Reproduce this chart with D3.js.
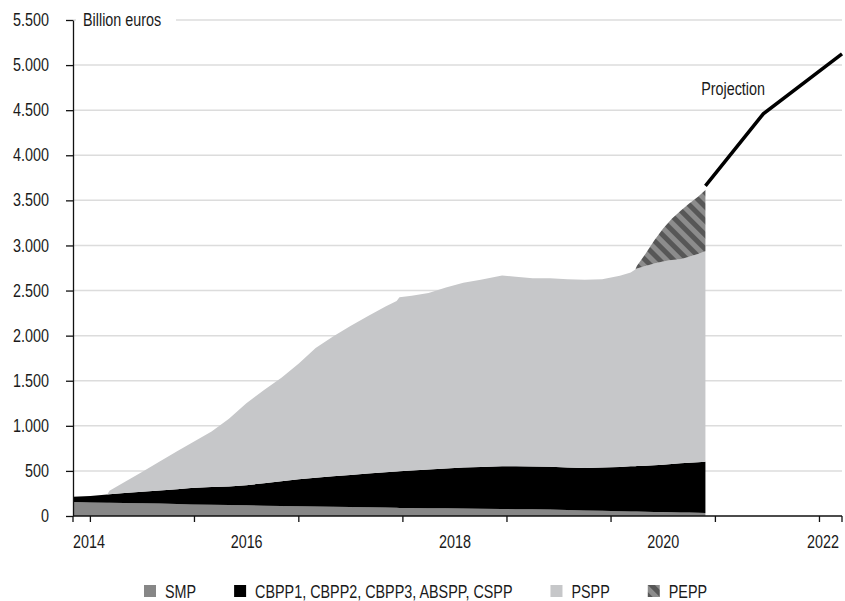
<!DOCTYPE html>
<html>
<head>
<meta charset="utf-8">
<script src="https://cdn.jsdelivr.net/npm/d3@7"></script>
<style>
  body { margin: 0; background: #fff; }
  text { font-family: "Liberation Sans", Arial, sans-serif; font-size: 17.5px; fill: #1a1a1a; }
</style>
</head>
<body>
<div id="chart"></div>
<script>
// Eurosystem holdings, billion euros
const dates = [
  "2014-11-01", "2015-01-01", "2015-03-01", "2015-03-09", "2015-05-01", "2015-07-01", "2015-09-01", "2015-11-01",
  "2015-12-20", "2016-03-01", "2016-05-01", "2016-07-01", "2016-09-01", "2016-11-01", "2017-01-01", "2017-03-01",
  "2017-05-01", "2017-07-01", "2017-09-01", "2017-11-01", "2017-12-10", "2017-12-20", "2018-02-01", "2018-04-01",
  "2018-06-01", "2018-08-01", "2018-10-01", "2018-12-15", "2019-02-01", "2019-04-01", "2019-06-01", "2019-08-01",
  "2019-10-01", "2019-12-01", "2020-02-01", "2020-03-10", "2020-03-26", "2020-04-01", "2020-05-01", "2020-06-01",
  "2020-07-01", "2020-08-01", "2020-09-01", "2020-10-01", "2020-11-01", "2020-11-27"
];
const smp = [
  155, 150, 147, 147, 144, 141, 138, 133,
  128, 125, 122, 119, 115, 112, 108, 105,
  102, 99, 96, 93, 91, 90, 89, 87,
  85, 82, 80, 78, 76, 74, 72, 67,
  62, 57, 53, 50, 49, 49, 47, 45,
  43, 41, 40, 38, 36, 34
];
const cbpp = [
  59, 72, 92, 94, 110, 127, 145, 165,
  182, 197, 206, 223, 248, 274, 300, 319,
  338, 356, 374, 391, 402, 405, 415, 429,
  442, 455, 464, 473, 475, 475, 475, 472,
  470, 480, 491, 501, 504, 505, 511, 518,
  526, 535, 545, 552, 560, 567
];
const pspp = [
  0, 0, 0, 40, 122, 221, 321, 419,
  498, 615, 751, 908, 1033, 1146, 1284, 1439,
  1551, 1653, 1747, 1838, 1892, 1930, 1939, 1958,
  2006, 2049, 2076, 2115, 2103, 2086, 2088, 2086,
  2088, 2088, 2121, 2149, 2180, 2191, 2214, 2237,
  2254, 2262, 2263, 2286, 2309, 2334
];
const pepp = [
  0, 0, 0, 0, 0, 0, 0, 0,
  0, 0, 0, 0, 0, 0, 0, 0,
  0, 0, 0, 0, 0, 0, 0, 0,
  0, 0, 0, 0, 0, 0, 0, 0,
  0, 0, 0, 0, 0, 30, 136, 259,
  363, 459, 536, 590, 636, 680
];
const projDates = ["2020-11-27", "2021-06-18", "2022-03-21"];
const projValues = [3660, 4460, 5125];

const keys = ["smp", "cbpp", "pspp", "pepp"];
const legendLabels = ["SMP", "CBPP1, CBPP2, CBPP3, ABSPP, CSPP", "PSPP", "PEPP"];
const yTicks = [0, 500, 1000, 1500, 2000, 2500, 3000, 3500, 4000, 4500, 5000, 5500];
const labelYears = [2014, 2016, 2018, 2020, 2022];

const width = 845, height = 601;
const margin = { left: 73, right: 3, top: 20, bottom: 85 };
const fills = { smp: "#878787", cbpp: "#000000", pspp: "#c6c7c9", pepp: "url(#hatch)" };

const parse = d3.timeParse("%Y-%m-%d");
const xStart = parse("2014-11-01"), xEnd = parse("2022-03-21");

const x = d3.scaleTime().domain([xStart, xEnd]).range([margin.left, width - margin.right]);
const y = d3.scaleLinear().domain([0, 5500]).range([height - margin.bottom, margin.top]);

const euro = d3.formatLocale({ decimal: ",", thousands: ".", grouping: [3], currency: ["", " €"] });

// no narrow font installed: squeeze the regular one to narrow proportions
const narrow = sel => sel.each(function () {
  const w = this.getComputedTextLength();
  d3.select(this).attr("textLength", w * 0.82).attr("lengthAdjust", "spacingAndGlyphs");
});

const rows = dates.map((d, i) => ({ date: parse(d), smp: smp[i], cbpp: cbpp[i], pspp: pspp[i], pepp: pepp[i] }));
const series = d3.stack().keys(keys)(rows);

const svg = d3.select("#chart").append("svg")
  .attr("width", width)
  .attr("height", height);

const defs = svg.append("defs");
const hatch = defs.append("pattern")
  .attr("id", "hatch")
  .attr("patternUnits", "userSpaceOnUse")
  .attr("width", 10).attr("height", 10)
  .attr("patternTransform", "rotate(-45)");
hatch.append("rect").attr("width", 10).attr("height", 10).attr("fill", "#8c8c8c");
hatch.append("rect").attr("width", 5).attr("height", 10).attr("fill", "#575757");

// gridlines
svg.append("g")
  .selectAll("line")
  .data(yTicks.filter(v => v > 0))
  .join("line")
  .attr("x1", margin.left).attr("x2", width - margin.right)
  .attr("y1", d => y(d)).attr("y2", d => y(d))
  .attr("stroke", "#dcdcdc")
  .attr("stroke-width", 1.5);

// stacked areas
const area = d3.area()
  .x(d => x(d.data.date))
  .y0(d => y(d[0]))
  .y1(d => y(d[1]));

svg.append("g")
  .selectAll("path")
  .data(series)
  .join("path")
  .attr("fill", d => fills[d.key])
  .attr("d", area);

// projection line
const projLine = d3.line()
  .x((d, i) => x(parse(projDates[i])))
  .y(d => y(d));

svg.append("path")
  .attr("d", projLine(projValues))
  .attr("fill", "none")
  .attr("stroke", "#000")
  .attr("stroke-width", 3.5);

svg.append("text")
  .attr("x", x(parse("2021-03-04")))
  .attr("y", 95)
  .attr("text-anchor", "middle")
  .text("Projection")
  .call(narrow);

// y axis
const yAxis = svg.append("g")
  .attr("transform", `translate(${margin.left},0)`)
  .call(d3.axisLeft(y)
    .tickValues(yTicks)
    .tickSize(7)
    .tickSizeOuter(0)
    .tickPadding(17)
    .tickFormat(euro.format(",")));
yAxis.selectAll("text").attr("font-size", null).attr("font-family", null).attr("fill", "#1a1a1a").call(narrow);
yAxis.selectAll("line, path").attr("stroke", "#111").attr("stroke-width", 1.3);

// unit label with white background over the top gridline
const unit = svg.append("g");
unit.append("rect")
  .attr("x", margin.left + 3).attr("y", 8)
  .attr("width", 100).attr("height", 22)
  .attr("fill", "#fff");
unit.append("text")
  .attr("x", margin.left + 10)
  .attr("y", y(5500) + 6)
  .text("Billion euros")
  .call(narrow);

// x axis: ticks at year boundaries, labels centred in every other year
const x0 = height - margin.bottom;
const tickDates = [xStart].concat(d3.timeYear.range(d3.timeYear.ceil(xStart), xEnd), [xEnd]);
const xAxis = svg.append("g");
xAxis.append("line")
  .attr("x1", margin.left).attr("x2", width - margin.right)
  .attr("y1", x0).attr("y2", x0)
  .attr("stroke", "#111").attr("stroke-width", 1.3);
xAxis.selectAll("line.tick")
  .data(tickDates)
  .join("line")
  .attr("class", "tick")
  .attr("x1", d => x(d)).attr("x2", d => x(d))
  .attr("y1", x0).attr("y2", x0 + 6)
  .attr("stroke", "#111").attr("stroke-width", 1.3);
xAxis.selectAll("text")
  .data(labelYears)
  .join("text")
  .attr("text-anchor", "middle")
  .attr("y", x0 + 32)
  .attr("x", yr => {
    const a = Math.max(x(new Date(yr, 0, 1)), margin.left);
    const b = Math.min(x(new Date(yr + 1, 0, 1)), width - margin.right);
    return Math.min(Math.max((a + b) / 2, margin.left + 16), width - margin.right - 19);
  })
  .text(yr => yr)
  .call(narrow);

// legend
const legend = svg.append("g").attr("transform", "translate(144,585)");
let lx = 0;
keys.forEach((k, i) => {
  const item = legend.append("g").attr("transform", `translate(${lx},0)`);
  item.append("rect").attr("width", 12).attr("height", 12).attr("fill", fills[k]);
  const t = item.append("text").attr("x", 21).attr("y", 12.5).text(legendLabels[i]).call(narrow);
  lx += 21 + +t.attr("textLength") + 38;
});
</script>
</body>
</html>
